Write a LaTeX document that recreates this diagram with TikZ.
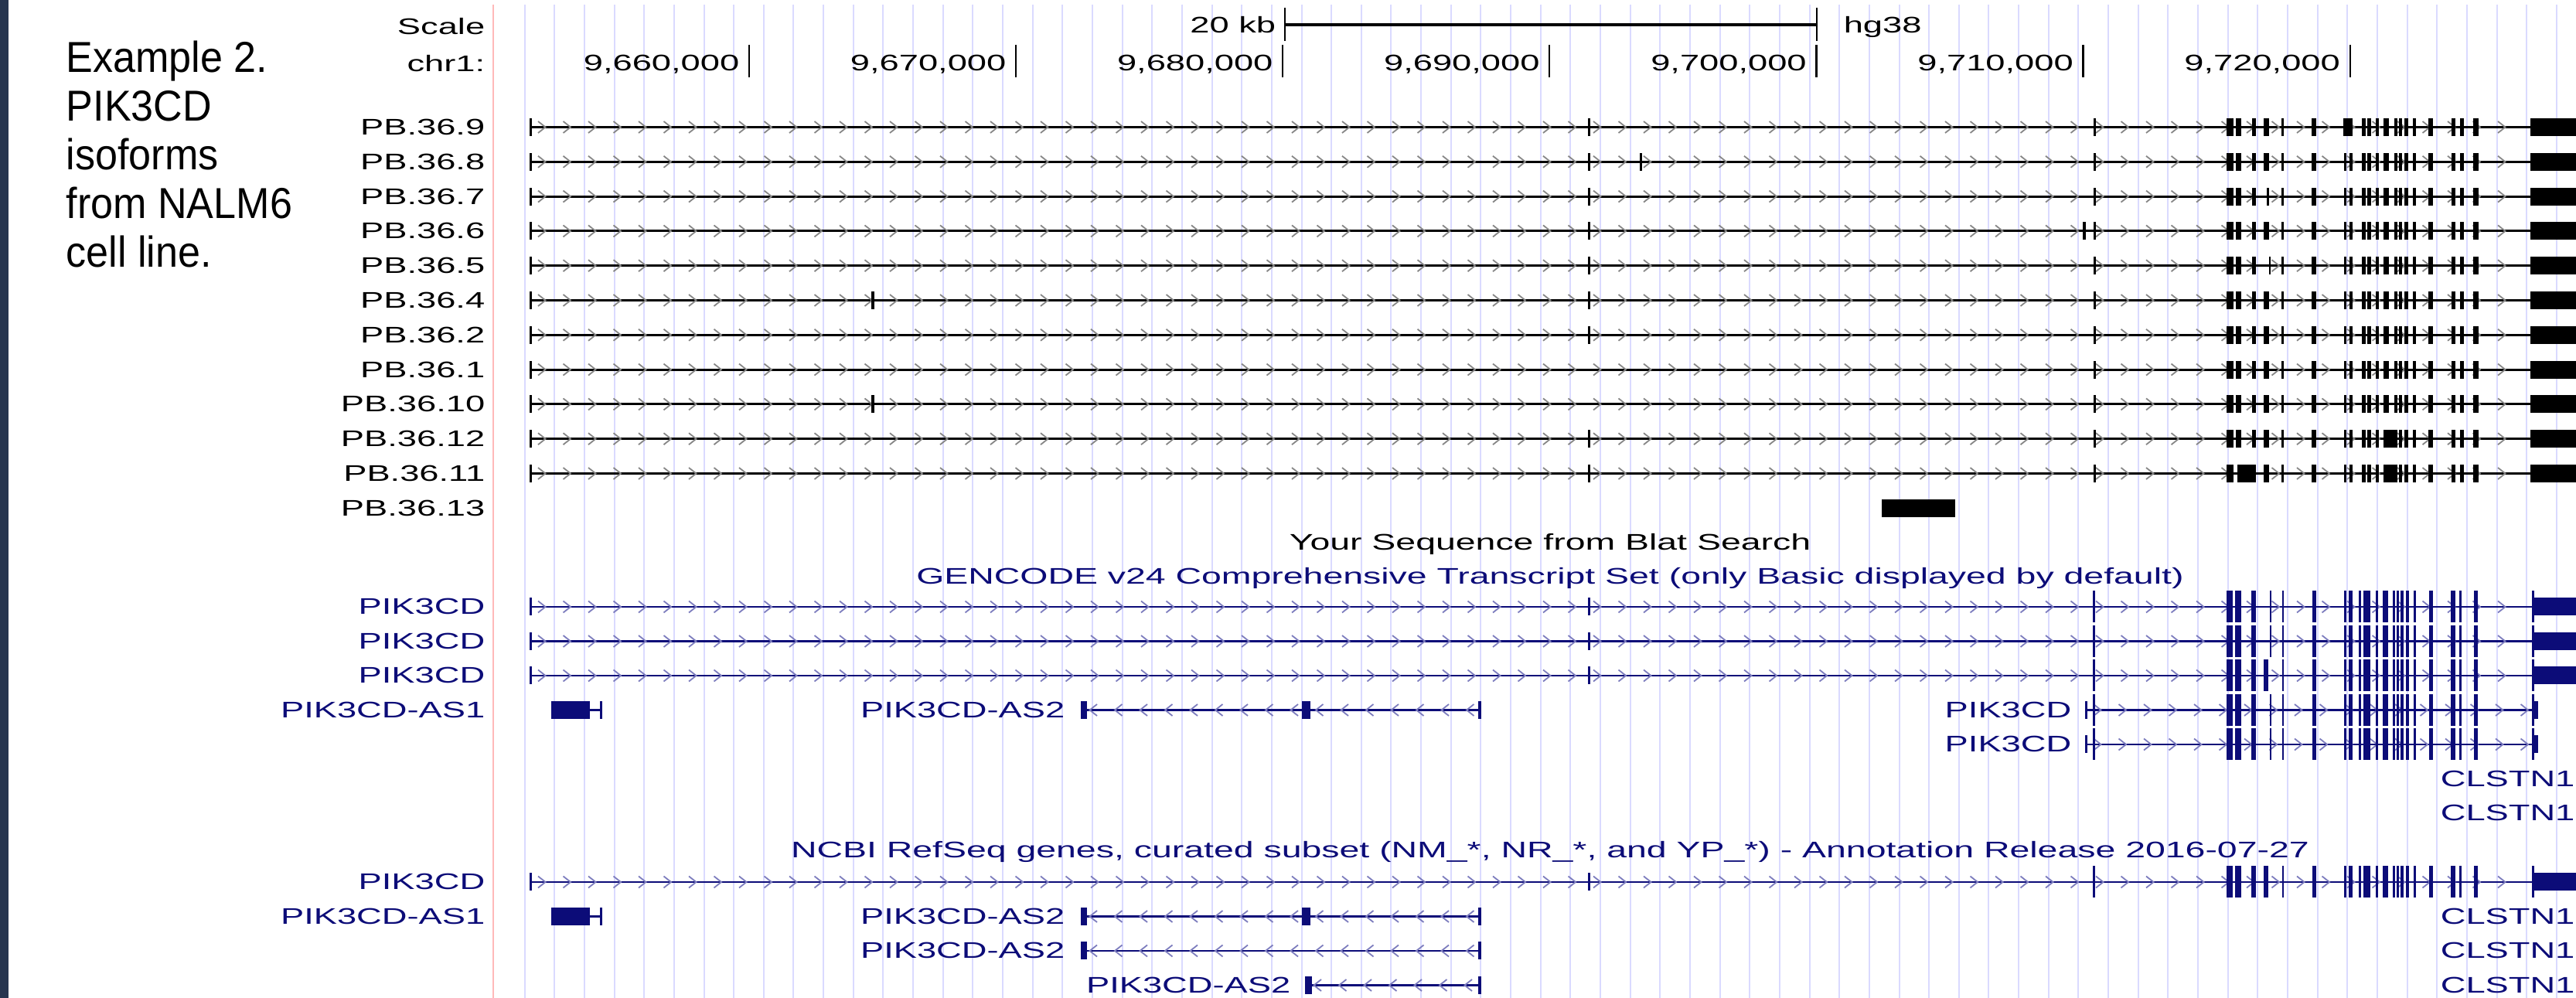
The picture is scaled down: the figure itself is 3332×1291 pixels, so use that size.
\documentclass[tikz,border=0pt]{standalone}
\usepackage{fontspec}
\setmainfont{Liberation Sans}
\newfontfamily\ucscfont[FakeStretch=1.55]{Liberation Sans}
\newfontfamily\ucsctitle[FakeStretch=1.59]{Liberation Sans}
\newfontfamily\captfont[FakeStretch=0.93]{Liberation Sans}
\definecolor{ucscnavy}{RGB}{12,12,120}
\definecolor{gridblue}{RGB}{218,218,255}
\definecolor{pinkline}{RGB}{255,185,185}
\definecolor{sidebar}{RGB}{38,53,79}
\definecolor{chevgray}{RGB}{135,135,135}
\definecolor{chevnavy}{RGB}{125,125,190}
\newcommand\uf{\ucscfont\fontsize{7.3}{8}\selectfont}
\newcommand\tf{\ucsctitle\fontsize{7.3}{8}\selectfont}
\tikzset{
  lbl/.style={font=\uf, inner sep=0pt},
  lblE/.style={lbl, anchor=base east},
  lblW/.style={lbl, anchor=base west},
  lblC/.style={font=\tf, inner sep=0pt, anchor=base},
  capt/.style={font=\captfont\fontsize{14}{16}\selectfont, inner sep=0pt, anchor=base west},
  chev/.style={line width=0.45pt},
  gridln/.style={gridblue, line width=0.5pt},
  tickln/.style={black, line width=0.55pt}
}
% chevrons: y, x1, x2, colour, direction (1 right, -1 left)
\newcommand\gchev[5]{%
  \pgfmathtruncatemacro\nch{(#3-#2-24)/32.5}%
  \foreach \ii in {0,...,\nch}{%
    \pgfmathsetmacro\cx{#2+16+32.5*\ii}%
    \draw[#4, chev] ({\cx-5*#5},#1-7.5) -- ({\cx+4.5*#5},#1) -- ({\cx-5*#5},#1+7.5);
  }}
\def\pbstd{2708/2711,2880/2889,2892/2899,2913/2918,2928/2935,3032/3035,3039/3043}
\def\pbtail{2951/2954,2990/2996,3055/3060,3062/3067,3073/3077,3083/3090,3097/3101,3103/3107,3110/3115,3121/3125,3141/3147,3171/3176,3182/3187,3199/3206}
% PacBio row: y, exon list
\newcommand\pbrow[2]{%
  \draw[black, line width=0.75pt] (685,#1) -- (3332,#1);
  \gchev{#1}{685}{3273}{chevgray}{1}
  \edef\exlist{685/688,#2,\pbtail}%
  \foreach \a/\b in \exlist {\fill[black] (\a,#1-11.5) rectangle (\b,#1+11.5);}
  \fill[black] (3273,#1-11.5) rectangle (3332,#1+11.5);
}
\def\gtail{2707/2710,2880/2888,2891/2898.5,2912/2918,2951.5/2954,2990.5/2996,3032/3035,3037.7/3043,3050.7/3054,3057/3065.5,3073/3076,3082/3088.5,3095/3098,3100/3103,3104.5/3109,3112/3115.6,3122/3125,3141.6/3147,3170/3176,3181/3184,3200/3205,3275/3277.5}
% gene row: y, start x, end of final UTR, extra tall exons, short exons
\newcommand\gcrow[5]{%
  \draw[ucscnavy, line width=0.6pt] (#2,#1) -- (3275,#1);
  \gchev{#1}{#2}{3275}{chevnavy}{1}
  \edef\tl{\gtail,#4}%
  \foreach \a/\b in \tl {\fill[ucscnavy] (\a,#1-20.5) rectangle (\b,#1+20.5);}
  \edef\sl{#5}%
  \foreach \a/\b in \sl {\fill[ucscnavy] (\a,#1-11.5) rectangle (\b,#1+11.5);}
  \fill[ucscnavy] (3275,#1-11.5) rectangle (#3,#1+11.5);
}
% antisense row: y, start x, exon list
\newcommand\asrow[3]{%
  \draw[ucscnavy, line width=0.6pt] (#2,#1) -- (1916,#1);
  \gchev{#1}{#2}{1912}{chevnavy}{-1}
  \edef\al{#3}%
  \foreach \a/\b in \al {\fill[ucscnavy] (\a,#1-11.5) rectangle (\b,#1+11.5);}
}
\newcommand\asone[1]{%
  \fill[ucscnavy] (713,#1-11.5) rectangle (763,#1+11.5);
  \draw[ucscnavy, line width=0.6pt] (763,#1) -- (779,#1);
  \fill[ucscnavy] (775.5,#1-11.5) rectangle (779,#1+11.5);
}
\begin{document}
\begin{tikzpicture}[x=0.25pt,y=-0.25pt]
\useasboundingbox (0,0) rectangle (3332,1291);
\fill[white] (0,0) rectangle (3332,1291);
\fill[sidebar] (0,0) rectangle (11,1291);
% guide lines
\foreach \i in {0,...,68} \draw[gridln] ({678.6+38.65*\i},6) -- ({678.6+38.65*\i},1291);
\draw[pinkline, line width=0.5pt] (638,6) -- (638,1291);

% caption
\node[capt] (cap1) at (85,94) {Example 2.};
\node[capt] (cap2) at (85,157) {PIK3CD};
\node[capt] (cap3) at (85,220) {isoforms};
\node[capt] (cap4) at (85,283) {from NALM6};
\node[capt] (cap5) at (85,346) {cell line.};

% ruler
\node[lblE] (scale) at (628,45) {Scale};
\node[lblE] (chr) at (628,93) {chr1:};
\coordinate (sbl) at (1662,32);
\coordinate (sbr) at (2350,32);
\draw[black, line width=0.8pt] (sbl) -- (sbr);
\draw[tickln] (1662,10) -- (1662,53);
\draw[tickln] (2350,10) -- (2350,53);
\node[lblE] (kb) at (1651,43) {20 kb};
\node[lblW] (hg) at (2384,43) {hg38};
\foreach \i/\lab in {0/{9,660,000},1/{9,670,000},2/{9,680,000},3/{9,690,000},4/{9,700,000},5/{9,710,000},6/{9,720,000}}{
  \pgfmathsetmacro\tx{969+345.1*\i}
  \draw[tickln] (\tx,58) -- (\tx,100);
  \node[lblE] (rl\i) at (\tx-12,92) {\lab};
}

% PacBio isoforms
\foreach \y/\lab in {164.5/PB.36.9,209.3/PB.36.8,254.1/PB.36.7,298.9/PB.36.6,343.7/PB.36.5,388.5/PB.36.4,433.3/PB.36.2,478.1/PB.36.1,522.9/PB.36.10,567.7/PB.36.12,612.5/PB.36.11,657.3/PB.36.13}{
  \node[lblE] (l-\lab) at (628,\y+10) {\lab};
}
\pbrow{164.5}{2054/2057,2708/2711,2880/2889,2892/2899,2913/2918,2928/2935,3031/3043}
\pbrow{209.3}{2054/2057,2121/2124,\pbstd}
\pbrow{254.1}{2054/2057,2708/2711,2880/2889,2892/2899,2913/2918,2932/2934.5,3032/3035,3039/3043}
\pbrow{298.9}{2054/2057,2694/2698,\pbstd}
\pbrow{343.7}{2054/2057,2708/2711,2880/2889,2892/2899,2913/2918,2935/2937,3032/3035,3039/3043}
\pbrow{388.5}{1127/1131,2054/2057,\pbstd}
\pbrow{433.3}{2054/2057,\pbstd}
\pbrow{478.1}{\pbstd}
\pbrow{522.9}{1127/1131,\pbstd}
\pbrow{567.7}{2054/2057,\pbstd,3083/3097}
\pbrow{612.5}{2054/2057,2708/2711,2880/2889,2894/2918,2928/2935,3032/3035,3039/3043,3083/3097}
\fill[black] (2434,645.8) rectangle (2529,668.8);

% track titles
\node[lblC] (blat) at (2005,712) {Your Sequence from Blat Search};
\node[lblC, text=ucscnavy] (gencode) at (2005,756) {GENCODE v24 Comprehensive Transcript Set (only Basic displayed by default)};
\node[lblC, text=ucscnavy] (refseq) at (2005,1110) {NCBI RefSeq genes, curated subset (NM\_*, NR\_*, and YP\_*) - Annotation Release 2016-07-27};

% GENCODE
\gcrow{785}{685}{3332}{2935.5/2938}{685/688,2054/2057}
\gcrow{829.5}{685}{3332}{2935.5/2938}{685/688,2054/2057}
\gcrow{874}{685}{3332}{2928/2934}{685/688,2054/2057}
\gcrow{918.5}{2697}{3283}{2935.5/2938}{2697/2700}
\gcrow{963}{2697}{3283}{2935.5/2938}{2697/2700}
\asone{918.5}
\asrow{918.5}{1398}{1398/1406,1684/1695,1912/1916}
\foreach \y/\n in {785/a,829.5/b,874/c}{\node[lblE, text=ucscnavy] (g-\n) at (628,\y+10) {PIK3CD};}
\node[lblE, text=ucscnavy] (g-as1) at (628,928.5) {PIK3CD-AS1};
\node[lblE, text=ucscnavy] (g-as2) at (1378,928.5) {PIK3CD-AS2};
\node[lblE, text=ucscnavy] (g-d) at (2680,928.5) {PIK3CD};
\node[lblE, text=ucscnavy] (g-e) at (2680,973) {PIK3CD};
\node[lblW, text=ucscnavy] (g-cl1) at (3156,1017.5) {CLSTN1};
\node[lblW, text=ucscnavy] (g-cl2) at (3156,1062) {CLSTN1};

% RefSeq
\gcrow{1141}{685}{3332}{2928/2934}{685/688,2054/2057}
\asone{1185.5}
\asrow{1185.5}{1398}{1398/1406,1684/1695,1912/1916}
\asrow{1230}{1398}{1398/1406,1912/1916}
\asrow{1274.5}{1688}{1688/1697,1912/1916}
\node[lblE, text=ucscnavy] (r-pik) at (628,1151) {PIK3CD};
\node[lblE, text=ucscnavy] (r-as1) at (628,1195.5) {PIK3CD-AS1};
\node[lblE, text=ucscnavy] (r-as2a) at (1378,1195.5) {PIK3CD-AS2};
\node[lblE, text=ucscnavy] (r-as2b) at (1378,1240) {PIK3CD-AS2};
\node[lblE, text=ucscnavy] (r-as2c) at (1670,1284.5) {PIK3CD-AS2};
\node[lblW, text=ucscnavy] (r-cl1) at (3156,1195.5) {CLSTN1};
\node[lblW, text=ucscnavy] (r-cl2) at (3156,1240) {CLSTN1};
\node[lblW, text=ucscnavy] (r-cl3) at (3156,1284.5) {CLSTN1};
\end{tikzpicture}
\end{document}
